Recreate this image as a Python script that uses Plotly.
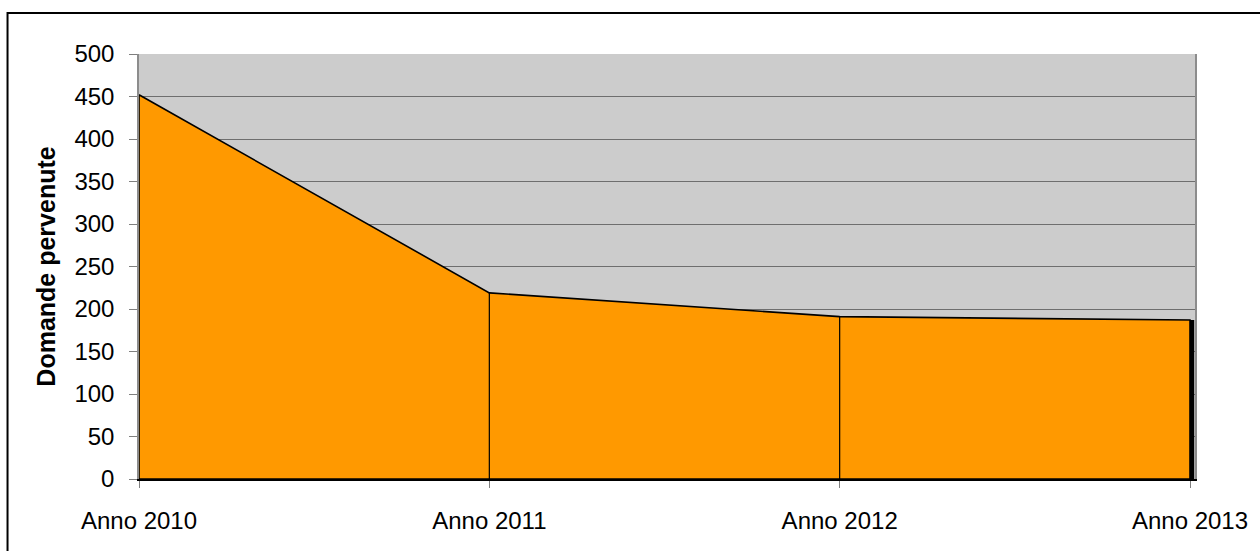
import plotly.graph_objects as go

# Domande pervenute per anno
anni = ["Anno 2010", "Anno 2011", "Anno 2012", "Anno 2013"]
domande = [452, 219, 191, 187]
y_ticks = [0, 50, 100, 150, 200, 250, 300, 350, 400, 450, 500]

pos = list(range(len(anni)))
FONT = "Liberation Sans, Arial, sans-serif"
ORANGE = "#FF9900"

fig = go.Figure()

# area polygon with black outline
poly_x = pos + [pos[-1], pos[0], pos[0]]
poly_y = domande + [0, 0, domande[0]]
fig.add_trace(go.Scatter(
    x=poly_x, y=poly_y, mode="lines", fill="toself",
    fillcolor=ORANGE, line=dict(color="black", width=1.6),
    hoverinfo="skip", showlegend=False,
))

# vertical drop lines at the inner categories
for p, v in zip(pos[1:-1], domande[1:-1]):
    fig.add_trace(go.Scatter(
        x=[p, p], y=[0, v], mode="lines",
        line=dict(color="black", width=1.2),
        hoverinfo="skip", showlegend=False,
    ))

# depth edge on the last category
fig.add_trace(go.Bar(
    x=[pos[-1]], y=[domande[-1]], width=0.012, offset=0,
    marker=dict(color="black", line=dict(width=0)),
    hoverinfo="skip", showlegend=False,
))

fig.update_layout(
    width=1260, height=551,
    margin=dict(l=139, r=65, t=54, b=72),
    paper_bgcolor="white",
    plot_bgcolor="#CCCCCC",
    font=dict(family=FONT, size=24, color="black"),
    shapes=[dict(
        type="rect", xref="paper", yref="paper",
        x0=-0.1245, x1=1.3, y0=-0.4, y1=1.0965,
        line=dict(color="black", width=2), fillcolor="rgba(0,0,0,0)",
        layer="above",
    )],
)

fig.update_xaxes(
    range=[0, 3 * 1056 / 1051],
    tickmode="array", tickvals=pos, ticktext=anni,
    showgrid=False, zeroline=False,
    showline=True, linecolor="black", linewidth=2,
    ticks="outside", ticklen=7, tickcolor="#7f7f7f", tickwidth=1,
    ticklabelstandoff=12,
    tickfont=dict(size=24),
)

fig.update_yaxes(
    range=[0, 500],
    tickmode="array", tickvals=y_ticks,
    showgrid=True, gridcolor="#6e6e6e", gridwidth=1.2,
    zeroline=False,
    showline=True, linecolor="#8c8c8c", linewidth=1.5, mirror=True,
    layer="below traces",
    ticks="outside", ticklen=8, tickcolor="#7f7f7f", tickwidth=1,
    ticklabelstandoff=10,
    tickfont=dict(size=24),
    title=dict(text="<b>Domande pervenute</b>", font=dict(size=25), standoff=12),
)

fig.write_html("out.html")
